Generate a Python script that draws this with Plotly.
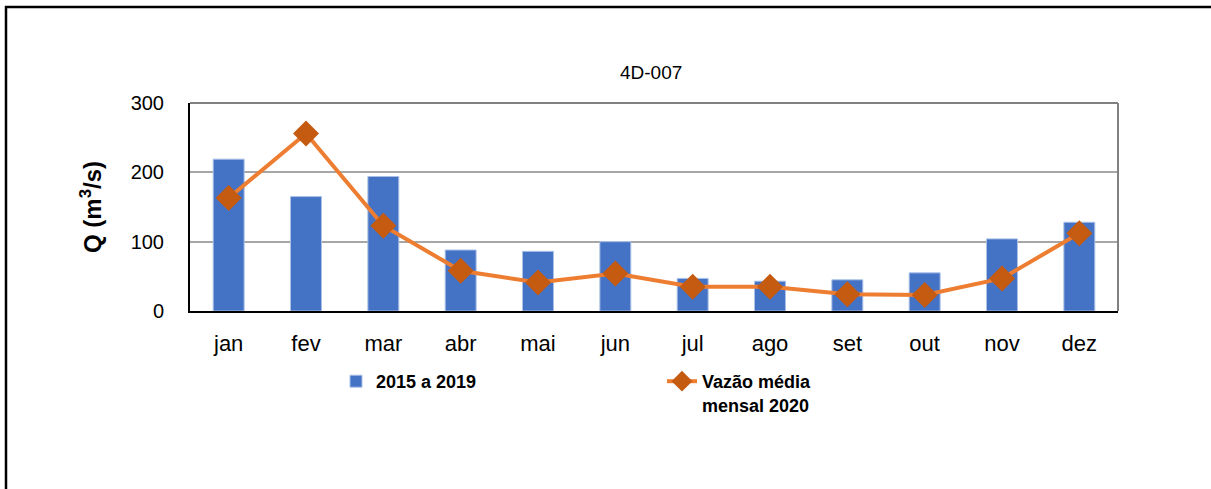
import plotly.graph_objects as go

months = ["jan", "fev", "mar", "abr", "mai", "jun", "jul", "ago", "set", "out", "nov", "dez"]
q_2015_2019 = [219, 165, 194, 88, 86, 100, 47, 43, 45, 55, 104, 128]
q_2020 = [163, 256, 123, 58, 41, 54, 35, 35, 24, 23, 47, 112]
y_ticks = [0, 100, 200, 300]

FONT = "Arial, Liberation Sans, sans-serif"

fig = go.Figure()
fig.add_trace(go.Bar(
    x=months, y=q_2015_2019, name="2015 a 2019",
    marker=dict(color="#4472C4", line=dict(color="#A9C0E8", width=1)),
    width=0.4,
))
fig.add_trace(go.Scatter(
    x=months, y=q_2020, name="Vazão média<br>mensal 2020",
    mode="lines+markers",
    line=dict(color="#ED7D31", width=4),
    marker=dict(symbol="diamond", size=20, color="#C55A11"),
))

L, R, T, B = 190, 93, 103, 178
W, H = 1211, 489
pw, ph = W - L - R, H - T - B

def px_x(x):
    return (x - L) / pw

def px_y(y):
    return (H - B - y) / ph

shapes = [
    # outer frame (top and left)
    dict(type="line", xref="paper", yref="paper", x0=px_x(5), x1=px_x(1211), y0=px_y(7), y1=px_y(7),
         line=dict(color="#000000", width=2.5)),
    dict(type="line", xref="paper", yref="paper", x0=px_x(6), x1=px_x(6), y0=px_y(6), y1=px_y(489),
         line=dict(color="#000000", width=2.5)),
    # plot area top and right borders
    dict(type="line", xref="paper", yref="paper", x0=0, x1=1, y0=1, y1=1,
         line=dict(color="#808080", width=2)),
    dict(type="line", xref="paper", yref="paper", x0=1, x1=1, y0=0, y1=1,
         line=dict(color="#808080", width=2)),
]

fig.update_layout(
    width=W, height=H,
    margin=dict(l=L, r=R, t=T, b=B),
    paper_bgcolor="white", plot_bgcolor="white",
    font=dict(family=FONT, color="#000000"),
    showlegend=True,
    legend=dict(
        orientation="h", x=px_x(336), y=px_y(363), xanchor="left", yanchor="top",
        entrywidth=281, entrywidthmode="pixels", valign="top",
        font=dict(family=FONT, size=18, color="#000000", weight="bold"),
        bgcolor="rgba(0,0,0,0)", tracegroupgap=0,
    ),
    bargap=0.6,
    shapes=shapes,
    annotations=[
        dict(text="4D-007", xref="paper", yref="paper", x=px_x(651), y=px_y(72),
             xanchor="center", yanchor="middle", showarrow=False,
             font=dict(family=FONT, size=19, color="#000000")),
    ],
)

fig.update_xaxes(
    type="category", range=[-0.5, len(months) - 0.5],
    showline=True, linecolor="#000000", linewidth=2,
    showgrid=False, ticks="", ticklabelstandoff=12,
    tickfont=dict(family=FONT, size=22, color="#000000"),
)
fig.update_yaxes(
    range=[0, 300], tickvals=y_ticks, showline=True, linecolor="#000000", linewidth=2,
    showgrid=True, gridcolor="#A6A6A6", gridwidth=1.5, zeroline=False,
    ticks="", ticklabelstandoff=20,
    tickfont=dict(family=FONT, size=20, color="#000000"),
    title=dict(text="Q (m<sup>3</sup>/s)", standoff=22,
               font=dict(family=FONT, size=24, color="#000000", weight="bold")),
)

fig.write_html(
    "out.html",
    config={"displayModeBar": False},
    post_script="document.body.style.margin='0';document.body.style.overflow='hidden';",
)
